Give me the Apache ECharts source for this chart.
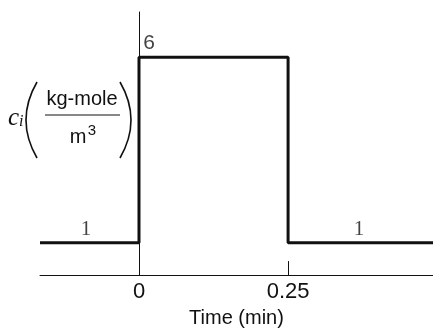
<!DOCTYPE html>
<html>
<head>
<meta charset="utf-8">
<script src="https://cdn.jsdelivr.net/npm/echarts@6/dist/echarts.min.js"></script>
<style>
html,body{margin:0;padding:0;background:#fff;}
#chart{width:433px;height:333px;}
</style>
</head>
<body>
<div id="chart"></div>
<script>
// Step input: concentration vs time
var timePoints = [-0.166, 0, 0, 0.25, 0.25, 0.493];
var concValues = [1, 1, 6, 6, 1, 1];
var tickValues = [0, 0.25];
var tickLabels = ['0', '0.25'];
// level annotations: [time, level]
var annoTimes = [-0.089, 0.017, 0.369];
var annoLevels = [1, 6, 1];
var annoTexts = ['1', '6', '1'];

var lineData = timePoints.map(function (t, i) { return [t, concValues[i]]; });
var annoData = annoTimes.map(function (t, i) {
  return { value: [t, annoLevels[i]], label: { formatter: annoTexts[i], fontFamily: annoTexts[i] === '1' ? 'Liberation Serif' : 'Liberation Sans' } };
});

var ink = '#111111';
var chart = echarts.init(document.getElementById('chart'), null, { renderer: 'canvas' });
chart.setOption({
  animation: false,
  backgroundColor: '#fff',
  grid: { left: 40, right: 0, top: 12, bottom: 53, containLabel: false },
  xAxis: {
    type: 'value', min: -0.166, max: 0.493,
    splitLine: { show: false },
    axisLine: { show: true, onZero: false, lineStyle: { color: ink, width: 1 } },
    axisTick: { show: true, inside: true, length: 14, customValues: tickValues, lineStyle: { color: ink, width: 1 } },
    axisLabel: {
      show: true, customValues: tickValues, margin: 6,
      formatter: function (v) { var i = tickValues.indexOf(v); return i >= 0 ? tickLabels[i] : ''; },
      color: ink, fontSize: 22, fontFamily: 'Liberation Sans'
    },
    name: 'Time (min)', nameLocation: 'middle', nameGap: 32,
    nameTextStyle: { color: ink, fontSize: 20, fontFamily: 'Liberation Sans' }
  },
  yAxis: {
    type: 'value', min: 0.127, max: 7.217,
    splitLine: { show: false },
    axisLine: { show: true, onZero: true, lineStyle: { color: ink, width: 1 } },
    axisTick: { show: false },
    axisLabel: { show: false }
  },
  series: [
    {
      type: 'line', data: lineData, showSymbol: false, symbol: 'none',
      lineStyle: { color: ink, width: 3 }, z: 3
    },
    {
      type: 'scatter', data: annoData, symbolSize: 0,
      label: { show: true, position: 'top', distance: 3, color: ink, fontSize: 21 },
      z: 4
    }
  ],
  graphic: [
    { type: 'text', left: 8, top: 106, style: { text: 'c', font: 'italic 25px "Liberation Serif"', fill: ink } },
    { type: 'text', left: 19, top: 114, style: { text: 'i', font: 'italic 16px "Liberation Serif"', fill: ink } },
    { type: 'bezierCurve', shape: { x1: 37, y1: 82, x2: 37, y2: 158, cpx1: 15, cpy1: 120 }, style: { stroke: ink, lineWidth: 1.6, fill: null } },
    { type: 'bezierCurve', shape: { x1: 120, y1: 82, x2: 120, y2: 158, cpx1: 142, cpy1: 120 }, style: { stroke: ink, lineWidth: 1.6, fill: null } },
    { type: 'text', x: 82, y: 99, style: { text: 'kg-mole', font: '20px "Liberation Sans"', fill: ink, textAlign: 'center', textVerticalAlign: 'middle' } },
    { type: 'line', shape: { x1: 45, y1: 115, x2: 120, y2: 115 }, style: { stroke: ink, lineWidth: 1 } },
    { type: 'text', x: 78, y: 137, style: { text: 'm', font: '20px "Liberation Sans"', fill: ink, textAlign: 'center', textVerticalAlign: 'middle' } },
    { type: 'text', x: 92, y: 131, style: { text: '3', font: '15px "Liberation Sans"', fill: ink, textAlign: 'center', textVerticalAlign: 'middle' } }
  ]
});
</script>
</body>
</html>
